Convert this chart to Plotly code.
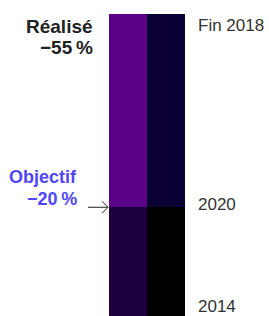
import plotly.graph_objects as go

# Data
columns = ["A", "B"]
lower_values = [36, 36]     # 2014 -> 2020
upper_values = [64, 64]     # 2020 -> Fin 2018
lower_colors = ["#1e0041", "#000000"]
upper_colors = ["#5a0087", "#0a0033"]
tick_labels = ["2014", "2020", "Fin 2018"]
tick_values = [0, 36, 100]

left_font = "Liberation Sans, Arial, sans-serif"
right_font = "Liberation Sans, Arial, sans-serif"

fig = go.Figure()
fig.add_trace(go.Bar(x=columns, y=lower_values, marker=dict(color=lower_colors, line=dict(width=0)),
                     hoverinfo="skip", showlegend=False))
fig.add_trace(go.Bar(x=columns, y=upper_values, marker=dict(color=upper_colors, line=dict(width=0)),
                     hoverinfo="skip", showlegend=False))

annotations = []
# right-side labels
anchors = {"2014": "bottom", "2020": "middle", "Fin 2018": "top"}
shifts = {"2014": -2, "2020": 3, "Fin 2018": 0}
for lab, val in zip(tick_labels, tick_values):
    annotations.append(dict(x=1, xref="paper", y=val, yref="y", text=lab, showarrow=False,
                            xanchor="left", yanchor=anchors[lab], xshift=11, yshift=shifts[lab],
                            font=dict(family=right_font, size=17, color="#333333")))

# left labels
def left_label(text, y, xshift, yshift, color, size):
    return dict(x=0, xref="paper", y=y, yref="y", text="<b>" + text + "</b>", showarrow=False,
                xanchor="right", yanchor="middle", xshift=xshift, yshift=yshift,
                font=dict(family=left_font, size=size, color=color))

annotations.append(left_label("Réalisé", 100, -14, -12, "#222222", 19))
annotations.append(left_label("\u221255\u202f%", 100, -14, -33, "#222222", 19))
annotations.append(left_label("Objectif", 36, -30, 30, "#5046fa", 18))
annotations.append(left_label("\u221220\u202f%", 36, -30, 8, "#5046fa", 18))

fig.update_layout(
    width=269, height=316,
    margin=dict(l=109, r=84, t=14, b=0, pad=0),
    paper_bgcolor="white", plot_bgcolor="white",
    barmode="stack", bargap=0,
    xaxis=dict(visible=False, range=[-0.5, 1.5]),
    yaxis=dict(visible=False, range=[0, 100]),
    annotations=annotations,
    shapes=[dict(type="path", xref="paper", yref="y", xsizemode="pixel", ysizemode="pixel",
                 xanchor=0, yanchor=36,
                 path="M-21,0 L-1,0 M-7,-6 L-1,0 L-7,6",
                 line=dict(color="#222222", width=1))],
)

fig.write_html("out.html", config={"displayModeBar": False},
               post_script="document.body.style.margin='0';document.body.style.padding='0';")
